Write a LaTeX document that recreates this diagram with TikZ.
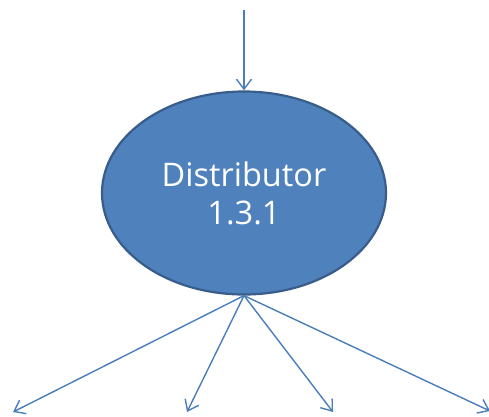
\documentclass[tikz,border=0pt]{standalone}
\usepackage{fontspec}
\setmainfont{Open Sans}
\usetikzlibrary{positioning,arrows.meta,shapes.geometric}
\definecolor{procFill}{RGB}{79,129,189}
\definecolor{procLine}{RGB}{56,93,138}
\definecolor{flowBlue}{RGB}{74,126,187}

\begin{document}
\begin{tikzpicture}[
    x=1pt, y=-1pt,
    proc/.style={ellipse, draw=procLine, line width=2.2pt, fill=procFill, minimum width=284pt, minimum height=203pt, text=white, font=\fontsize{32.5}{38}\selectfont, align=center},
    flow/.style={-{Straight Barb[length=10pt, width=15pt, line width=1.4pt]}, draw=flowBlue, line width=1.4pt},
]
\useasboundingbox (0,0) rectangle (489,416);

% Process
\node[proc] (dist) at (244,193) {Distributor\\1.3.1};

% Flow ends
\coordinate (src) at (244,10);
\coordinate (outA) at (13,412);
\coordinate (outB) at (187,412);
\coordinate (outC) at (333,412);
\coordinate (outD) at (490,411);

% Arrows
\draw[flow] (src) -- (dist.north);
\foreach \o in {outA,outB,outC,outD}
    \draw[flow] (dist.south) -- (\o);
\end{tikzpicture}
\end{document}
